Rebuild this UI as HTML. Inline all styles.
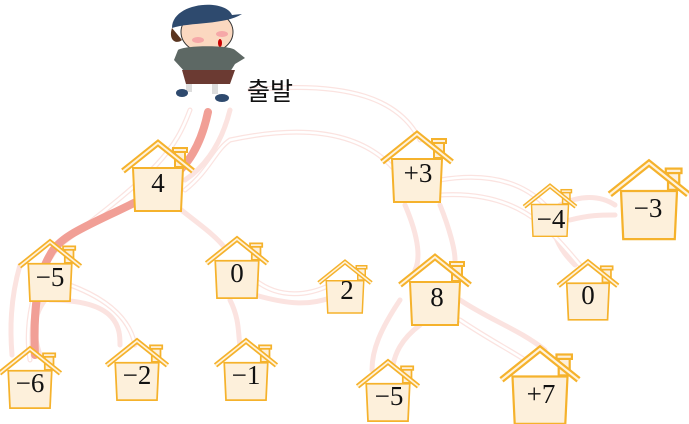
<!DOCTYPE html>
<html><head><meta charset="utf-8"><style>
html,body{margin:0;padding:0;background:#fff;}
svg{display:block;}
text{font-family:"Liberation Serif",serif;}
</style></head><body>
<svg width="689" height="424" viewBox="0 0 689 424" xmlns="http://www.w3.org/2000/svg">
<defs>
<g id="h">
  <polygon points="-25,25 25,25 23,68 -23,68" fill="#fdf0db" stroke="#f5b22c" stroke-width="2"/>
  <rect x="17" y="8" width="10" height="16" fill="#fdf0db" stroke="#f5b22c" stroke-width="2"/>
  <rect x="15" y="5" width="14" height="4" fill="#fdf0db" stroke="#f5b22c" stroke-width="2"/>
  <polyline points="-35,28 0,0 35,28" fill="none" stroke="#f5b22c" stroke-width="6" stroke-linejoin="miter"/>
  <polyline points="-35,28 0,0 35,28" fill="none" stroke="#fff3dc" stroke-width="2"/>
</g>
</defs>
<g fill="none" stroke-linecap="round">
<g stroke="#fbe3e0" stroke-width="5">
<path d="M190,110 C175,150 160,170 60,245 C30,280 25,330 30,360"/>
<path d="M230,110 C220,150 200,170 185,180"/>
<path d="M250,90 C350,80 400,100 420,140"/>
<path d="M185,190 C210,170 215,150 230,140 C300,125 360,130 395,170"/>
<path d="M70,285 C110,300 130,320 135,345"/>
<path d="M45,300 C30,320 35,340 40,355"/>
<path d="M175,205 C200,225 215,235 225,248"/>
<path d="M230,300 C240,320 238,335 240,345"/>
<path d="M255,280 C280,300 310,295 330,285"/>
<path d="M255,295 C290,305 310,305 330,298"/>
<path d="M440,180 C500,170 530,190 545,205"/>
<path d="M440,195 C520,190 550,230 580,265"/>
<path d="M560,205 C580,195 600,195 615,205"/>
<path d="M570,220 C590,215 600,215 615,215"/>
<path d="M555,235 C560,250 570,260 575,265"/>
<path d="M405,205 C420,240 420,260 415,270"/>
<path d="M440,205 C450,230 455,250 455,260"/>
<path d="M400,300 C380,330 372,350 372,370"/>
<path d="M420,325 C400,340 395,355 393,365"/>
<path d="M460,320 C490,340 510,350 525,360"/>
<path d="M460,300 C490,320 520,330 545,350"/>
<path d="M20,265 C10,300 10,330 12,355"/>
<path d="M50,300 C120,300 120,330 120,345"/>
</g>
<g stroke="#fff" stroke-width="2.5">
<path d="M190,110 C175,150 160,170 60,245 C30,280 25,330 30,360"/>
<path d="M250,90 C350,80 400,100 420,140"/>
<path d="M185,190 C210,170 215,150 230,140 C300,125 360,130 395,170"/>
<path d="M70,285 C110,300 130,320 135,345"/>
<path d="M440,180 C500,170 530,190 545,205"/>
<path d="M440,195 C520,190 550,230 580,265"/>
<path d="M460,320 C490,340 510,350 525,360"/>
<path d="M255,280 C280,300 310,295 330,285"/>
</g>
<path d="M208,112 C200,150 185,175 140,200 C90,225 60,235 50,255 C38,275 33,310 35,355" stroke="#f19f96" stroke-width="8"/>
</g>
<use href="#h" transform="translate(158,143)"/>
<use href="#h" transform="translate(50,242) scale(0.87)"/>
<use href="#h" transform="translate(30,349) scale(0.87)"/>
<use href="#h" transform="translate(137,341) scale(0.87)"/>
<use href="#h" transform="translate(237,239) scale(0.87)"/>
<use href="#h" transform="translate(246,341) scale(0.87)"/>
<use href="#h" transform="translate(345,262) scale(0.75)"/>
<use href="#h" transform="translate(417,134) scale(1.0)"/>
<use href="#h" transform="translate(550,186) scale(0.74)"/>
<use href="#h" transform="translate(649,163) scale(1.12)"/>
<use href="#h" transform="translate(588,262) scale(0.85)"/>
<use href="#h" transform="translate(435,257) scale(1.0)"/>
<use href="#h" transform="translate(388,362) scale(0.87)"/>
<use href="#h" transform="translate(540,349) scale(1.1)"/>
<g font-size="27" text-anchor="middle" fill="#111">
<text x="158" y="192">4</text>
<text x="50" y="286">−5</text>
<text x="30" y="392">−6</text>
<text x="137" y="384">−2</text>
<text x="237" y="282">0</text>
<text x="246" y="384">−1</text>
<text x="347" y="299">2</text>
<text x="418" y="182">+3</text>
<text x="551" y="228">−4</text>
<text x="648" y="217">−3</text>
<text x="588" y="304">0</text>
<text x="437" y="306">8</text>
<text x="389" y="405">−5</text>
<text x="541" y="403">+7</text>
</g>
<!-- character -->
<g>
<ellipse cx="207" cy="32" rx="26" ry="21" fill="#fbd8c0" stroke="#333" stroke-width="1"/>
<path d="M172,28 C172,2 225,-2 232,15 L242,14 C225,25 190,22 172,28Z" fill="#2e4a6e"/>
<path d="M172,28 C168,40 176,45 182,40Z" fill="#5a3520"/>
<ellipse cx="198" cy="40" rx="6" ry="3" fill="#f6a8a8"/>
<ellipse cx="222" cy="34" rx="6" ry="3" fill="#f6a8a8"/>
<ellipse cx="220" cy="43" rx="2" ry="4" fill="#c00"/>
<path d="M178,50 C185,45 230,45 235,50 L245,58 L235,64 L230,72 L185,72 L174,60Z" fill="#5d6864"/>
<path d="M182,70 L235,70 L230,84 L186,84Z" fill="#6b3a32"/>
<rect x="186" y="84" width="6" height="8" fill="#ddd"/>
<rect x="212" y="84" width="6" height="10" fill="#ddd"/>
<ellipse cx="182" cy="93" rx="6" ry="4" fill="#2e4a6e"/>
<ellipse cx="222" cy="98" rx="7" ry="4" fill="#2e4a6e"/>
</g>
<text x="247" y="100" font-size="25" font-family="'Liberation Sans','Noto Sans CJK KR',sans-serif" fill="#111">출발</text>
</svg>
</body></html>
